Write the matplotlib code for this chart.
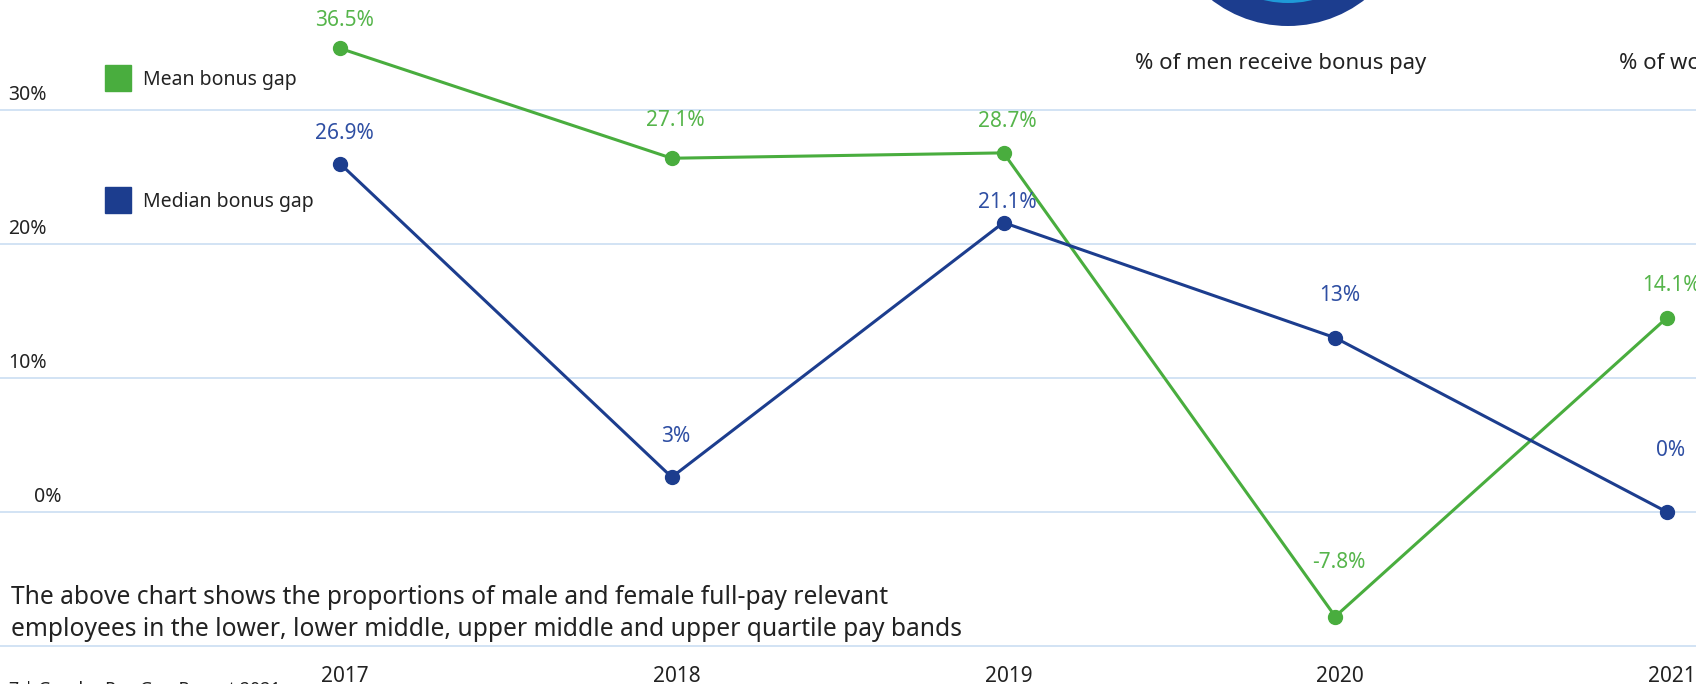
import numpy as np
import matplotlib
matplotlib.use("Agg")
import matplotlib.pyplot as plt
import matplotlib.transforms as mtransforms
from matplotlib.lines import Line2D
from matplotlib.patches import Circle

plt.rcParams['font.family'] = ['Noto Sans', 'DejaVu Sans']

# dados
anos = [2017, 2018, 2019, 2020, 2021]
media = [34.6, 26.4, 26.8, -7.8, 14.5]
mediana = [26.0, 2.6, 21.6, 13.0, 0.0]
rotulos_media = ["36.5%", "27.1%", "28.7%", "-7.8%", "14.1%"]
rotulos_mediana = ["26.9%", "3%", "21.1%", "13%", "0%"]
grade = [30, 20, 10, 0, -10]
rotulos_grade = ["30%", "20%", "10%", "0%"]

VERDE = "#49ad3e"
AZUL = "#1c3d8e"
VERDE_TXT = "#56b54b"
AZUL_TXT = "#2f4fa3"
CINZA = "#222222"
GRADE = "#cfe1f3"

W, H = 1696, 684
fig = plt.figure(figsize=(W / 100, H / 100), dpi=100)
ax = fig.add_axes([0, 0, 1, 1])

# escala: 0% em y=512 px, 13.4 px por ponto percentual
px_pct = 13.4
ax.set_ylim(-(H - 512) / px_pct, 512 / px_pct)
px_ano = (1667 - 340) / 4
ax.set_xlim(2017 - 340 / px_ano, 2021 + (W - 1667) / px_ano)
for s in ax.spines.values():
    s.set_visible(False)
ax.set_xticks([])
ax.set_yticks([])

for g in grade:
    ax.axhline(g, color=GRADE, lw=1.3, zorder=0)

trans_y = mtransforms.blended_transform_factory(ax.transAxes, ax.transData)
for g, t in zip(grade, rotulos_grade):
    x0 = 34 if g == 0 else 8
    ax.text(x0 / W, g + 0.4, t, transform=trans_y, ha="left", va="bottom",
            fontsize=14, color=CINZA)

ax.plot(anos, media, color=VERDE, lw=2.2, marker="o", ms=10, zorder=3)
ax.plot(anos, mediana, color=AZUL, lw=2.2, marker="o", ms=10, zorder=3)

# deslocamento dos rótulos acima de cada ponto (pixels)
desl_media = [28, 38, 31, 54, 32]
desl_mediana = [30, 41, 20, 42, 61]
for x, y, t, d in zip(anos, media, rotulos_media, desl_media):
    ax.annotate(t, (x, y), xytext=(4, d), textcoords="offset pixels",
                ha="center", va="center", fontsize=15, color=VERDE_TXT)
for x, y, t, d in zip(anos, mediana, rotulos_mediana, desl_mediana):
    ax.annotate(t, (x, y), xytext=(4, d), textcoords="offset pixels",
                ha="center", va="center", fontsize=15, color=AZUL_TXT)

# anos embaixo
for x in anos:
    ax.annotate(str(x), (x, -(676 - 512) / px_pct), xytext=(5, 0),
                textcoords="offset pixels", ha="center", va="center",
                fontsize=15, color=CINZA)

# legenda
handles = [Line2D([], [], ls="none", marker="s", ms=18.5, color=VERDE),
           Line2D([], [], ls="none", marker="s", ms=18.5, color=AZUL)]
fig.legend(handles, ["Mean bonus gap", "Median bonus gap"],
           loc="upper left", bbox_to_anchor=(99 / W, 1 - 70 / H),
           frameon=False, fontsize=14, labelspacing=5.25,
           handletextpad=0.25, borderpad=0, borderaxespad=0,
           labelcolor=CINZA)

# texto de baixo
fig.text(11 / W, 1 - 597 / H, "The above chart shows the proportions of male and female full-pay relevant",
         ha="left", va="center", fontsize=17.7, color=CINZA)
fig.text(11 / W, 1 - 630 / H, "employees in the lower, lower middle, upper middle and upper quartile pay bands",
         ha="left", va="center", fontsize=17.7, color=CINZA)
fig.text(9 / W, 1 - 690 / H, "7 | Gender Pay Gap Report 2021",
         ha="left", va="center", fontsize=12.8, color=CINZA)

# rosca cortada no topo
ax2 = fig.add_axes([0, 0, 1, 1], facecolor="none")
ax2.set_xlim(0, W)
ax2.set_ylim(H, 0)
ax2.axis("off")
ax2.add_patch(Circle((1288, -99), 125, color=AZUL, lw=0))
ax2.add_patch(Circle((1288, -99), 102, color="#1f9ad8", lw=0))
ax2.add_patch(Circle((1288, -99), 92, color="white", lw=0))

fig.text(1281 / W, 1 - 64 / H, "% of men receive bonus pay", ha="center", va="center",
         fontsize=15.9, color=CINZA)
fig.text(1619 / W, 1 - 64 / H, "% of women receive bonus pay", ha="left", va="center",
         fontsize=15.9, color=CINZA)

fig.savefig("out.png", dpi=100)
